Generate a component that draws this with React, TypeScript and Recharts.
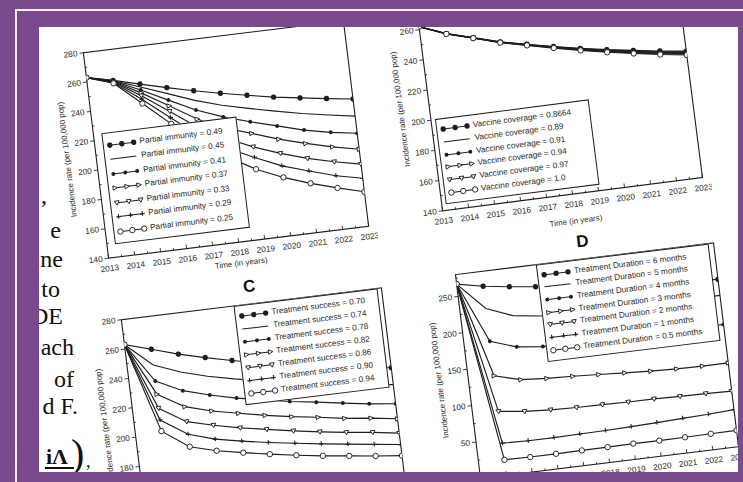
import React from 'react';
import { LineChart, Line, XAxis, YAxis, ReferenceArea } from 'recharts';

// ---------- data ----------
const years = [2013, 2014, 2015, 2016, 2017, 2018, 2019, 2020, 2021, 2022, 2023];
const yearTicks = [2013, 2014, 2015, 2016, 2017, 2018, 2019, 2020, 2021, 2022, 2023];

// Panel A : partial immunity
const immunityLabels = [
  'Partial immunity = 0.49',
  'Partial immunity = 0.45',
  'Partial immunity = 0.41',
  'Partial immunity = 0.37',
  'Partial immunity = 0.33',
  'Partial immunity = 0.29',
  'Partial immunity = 0.25',
];
const immunity049 = [263, 259, 254.3, 249.7, 245.4, 241.5, 238, 234.5, 231.8, 229.2, 226.7];
const immunity045 = [263, 258.8, 252.3, 245.6, 238.8, 233.3, 229, 225, 221.2, 218, 215];
const immunity041 = [263, 258.5, 250.3, 241.2, 232.3, 225.4, 219.9, 214.9, 209.9, 206.2, 203.4];
const immunity037 = [263, 258.2, 248.3, 237.3, 226.1, 217.8, 212, 205.9, 200.8, 196.3, 192.5];
const immunity033 = [263, 257.8, 246.3, 233.5, 220.4, 210.8, 202.8, 196.2, 190.6, 186.1, 182.3];
const immunity029 = [263, 257.4, 244, 229.2, 215, 204.2, 195.6, 187.7, 182, 176.6, 172.7];
const immunity025 = [263, 257, 241, 225, 210, 198, 187.6, 179.8, 173.6, 168.3, 163.5];

// Panel B : vaccine coverage
const coverageLabels = [
  'Vaccine coverage = 0.8664',
  'Vaccine coverage = 0.89',
  'Vaccine coverage = 0.91',
  'Vaccine coverage = 0.94',
  'Vaccine coverage = 0.97',
  'Vaccine coverage = 1.0',
];
const coverage08664 = [262, 255.2, 250.3, 245.3, 241.5, 237.8, 234.4, 231.3, 228.6, 226, 223.7];
const coverage089 = [262, 255.15, 250.2, 245.2, 241.3, 237.6, 234.1, 231, 228.2, 225.5, 223.2];
const coverage091 = [262, 255.1, 250.15, 245.1, 241.2, 237.4, 233.8, 230.7, 227.8, 225.1, 222.7];
const coverage094 = [262, 255.1, 250.1, 245, 241.1, 237.2, 233.6, 230.3, 227.4, 224.6, 222.2];
const coverage097 = [262, 255.05, 250.05, 244.9, 240.95, 237, 233.3, 230, 227, 224.2, 221.7];
const coverage100 = [262, 255, 250, 244.8, 240.8, 236.8, 233, 229.6, 226.6, 223.7, 221.2];

// Panel C : treatment success
const successLabels = [
  'Treatment success = 0.70',
  'Treatment success = 0.74',
  'Treatment success = 0.78',
  'Treatment success = 0.82',
  'Treatment success = 0.86',
  'Treatment success = 0.90',
  'Treatment success = 0.94',
];
const success070 = [263, 257.7, 252.2, 247.7, 243.5, 239.8, 236.4, 233.3, 230.5, 227.9, 225.5];
const success074 = [263, 247, 240, 235, 231, 227.5, 224.5, 221.5, 218.8, 216.3, 214];
const success078 = [263, 236, 227.3, 222.2, 217.9, 214.5, 211.2, 208.6, 205.8, 203.1, 201];
const success082 = [263, 227.1, 216.4, 211.3, 207.6, 204, 200.9, 198.3, 195.4, 193.4, 190.8];
const success086 = [263, 217.5, 206.2, 201.6, 197.6, 194.4, 191.2, 188.4, 185.8, 183.7, 181];
const success090 = [263, 209.5, 197.6, 192.1, 188.6, 185.5, 182.8, 180.2, 177.8, 175.5, 173.2];
const success094 = [263, 201.9, 189.1, 184.2, 180.7, 177.5, 174.6, 172, 169.8, 167.6, 165.6];

// Panel D : treatment duration
const durationLabels = [
  'Treatment Duration = 6 months',
  'Treatment Duration = 5 months',
  'Treatment Duration = 4 months',
  'Treatment Duration = 3 months',
  'Treatment Duration = 2 months',
  'Treatment Duration = 1 months',
  'Treatment Duration = 0.5 months',
];
const duration6 = [267, 259.6, 254.6, 250.3, 246.5, 243, 240, 237.2, 234.8, 232.4, 230];
const duration5 = [267, 229, 215, 210, 208, 207, 206.5, 206.5, 207, 207.5, 208];
const duration4 = [267, 184, 172, 168, 166.5, 166, 166, 166.5, 167, 167.5, 168];
const duration3 = [267, 136.6, 126.9, 124.3, 122.9, 121, 118.9, 116.9, 115.7, 115.1, 115.2];
const duration2 = [267, 87.7, 83.4, 81.1, 80, 79.6, 78.8, 78.7, 77.8, 77.3, 76.3];
const duration1 = [267, 44, 43, 43, 43.5, 44, 45, 46.2, 47.7, 48.9, 51];
const duration05 = [267, 21.2, 20.6, 20.7, 21, 21.2, 21.7, 21.4, 21.7, 22.1, 22.5];

const rate140Ticks = [140, 160, 180, 200, 220, 240, 260, 280];
const rate0Ticks = [0, 50, 100, 150, 200, 250];

const xTitle = 'Time (in years)';
const yTitle = 'Incidence rate (per 100,000 pop)';

const sideWords = [',', 'e', 'ne', 'to', 'DE', 'ach', 'of', 'd F.'];

// ---------- styles ----------
const SANS = '"Liberation Sans", Arial, Helvetica, sans-serif';
const SERIF = '"Liberation Serif", "Times New Roman", serif';
const INK = '#1e1e1e';
const TXT = '#2a2a2a';
const PURPLE = '#7b4a8c';

type Kind = 'bigDot' | 'none' | 'smallDot' | 'triRight' | 'triDown' | 'plus' | 'circle';
const sevenKinds: Kind[] = ['bigDot', 'none', 'smallDot', 'triRight', 'triDown', 'plus', 'circle'];
const sixKinds: Kind[] = ['bigDot', 'none', 'smallDot', 'triRight', 'triDown', 'circle'];

type Series = { label: string; kind: Kind; values: number[] };
type PanelSpec = {
  cx: number;
  cy: number;
  W: number;
  H: number;
  angle: number;
  domain: [number, number];
  yMajor: number[];
  series: Series[];
  legend: { left: number; top: number; width: number; height: number };
  title?: string;
  xTitleOffset: number;
};

function Marker({ kind, cx, cy }: { kind: Kind; cx: number; cy: number }) {
  if (cx == null || cy == null || Number.isNaN(cx) || Number.isNaN(cy)) return <g />;
  switch (kind) {
    case 'bigDot':
      return <circle cx={cx} cy={cy} r={2.7} fill={INK} />;
    case 'smallDot':
      return <circle cx={cx} cy={cy} r={2} fill={INK} />;
    case 'triRight':
      return (
        <path
          d={`M${cx - 2},${cy - 2.2}L${cx + 2.5},${cy}L${cx - 2},${cy + 2.2}Z`}
          fill="#fff"
          stroke={INK}
          strokeWidth={0.9}
        />
      );
    case 'triDown':
      return (
        <path
          d={`M${cx - 2.4},${cy - 1.8}L${cx + 2.4},${cy - 1.8}L${cx},${cy + 2.4}Z`}
          fill="#fff"
          stroke={INK}
          strokeWidth={0.9}
        />
      );
    case 'plus':
      return (
        <path
          d={`M${cx - 2.4},${cy}L${cx + 2.4},${cy}M${cx},${cy - 2.6}L${cx},${cy + 2}`}
          stroke={INK}
          strokeWidth={1.1}
          fill="none"
        />
      );
    case 'circle':
      return <circle cx={cx} cy={cy} r={2.7} fill="#fff" stroke={INK} strokeWidth={0.9} />;
    default:
      return <g />;
  }
}

function buildRows(series: Series[]) {
  return years.map((year, i) => {
    const row: Record<string, number> = { year };
    series.forEach((s, j) => {
      row['s' + j] = s.values[i];
    });
    return row;
  });
}

const makeXTick = (major: number[]) => (props: any) => {
  const { x, y, payload } = props;
  const isMajor = major.includes(payload.value);
  return (
    <g>
      <line x1={x} x2={x} y1={y} y2={y - (isMajor ? 4 : 2)} stroke={INK} strokeWidth={0.8} />
      {isMajor && (
        <text x={x} y={y + 13} textAnchor="middle" fontSize={8.3} fill={TXT} fontFamily={SANS}>
          {payload.value}
        </text>
      )}
    </g>
  );
};

const makeYTick = (major: number[]) => (props: any) => {
  const { x, y, payload } = props;
  const isMajor = major.includes(payload.value);
  return (
    <g>
      {isMajor ? (
        <line x1={x - 4} x2={x} y1={y} y2={y} stroke={INK} strokeWidth={0.8} />
      ) : (
        <line x1={x} x2={x + 2} y1={y} y2={y} stroke={INK} strokeWidth={0.8} />
      )}
      {isMajor && (
        <text x={x - 6} y={y} dy="0.33em" textAnchor="end" fontSize={8.3} fill={TXT} fontFamily={SANS}>
          {payload.value}
        </text>
      )}
    </g>
  );
};

function LegendSample({ kind }: { kind: Kind }) {
  return (
    <svg width={30} height={8} style={{ flex: '0 0 auto', overflow: 'visible' }}>
      <line x1={2} x2={28} y1={4} y2={4} stroke={INK} strokeWidth={1} />
      {kind !== 'none' && (
        <>
          <Marker kind={kind} cx={3} cy={4} />
          <Marker kind={kind} cx={15} cy={4} />
          <Marker kind={kind} cx={27} cy={4} />
        </>
      )}
    </svg>
  );
}

function Panel({ spec }: { spec: PanelSpec }) {
  const L = 46;
  const T = 26;
  const R = 8;
  const B = 36;
  const chartW = L + spec.W + R;
  const chartH = T + spec.H + B;
  const ox = L + spec.W / 2;
  const oy = T + spec.H / 2;
  const rows = buildRows(spec.series);
  const step = (spec.yMajor[1] - spec.yMajor[0]) / 2;
  const yTicks = [...spec.yMajor, ...spec.yMajor.map((v) => v + step)].filter(
    (v) => v >= spec.domain[0] && v <= spec.domain[1]
  );
  const xTicks = [...yearTicks, ...yearTicks.slice(0, -1).map((v) => v + 0.5)];
  const lg = spec.legend;
  return (
    <div
      style={{
        position: 'absolute',
        left: spec.cx - 39 - ox,
        top: spec.cy - 27 - oy,
        width: chartW,
        height: chartH,
        transform: `rotate(${-spec.angle}deg)`,
        transformOrigin: `${ox}px ${oy}px`,
      }}
    >
      <LineChart width={chartW} height={chartH} data={rows} margin={{ top: T, right: R, bottom: 0, left: 0 }}>
        <XAxis
          dataKey="year"
          type="number"
          domain={[2013, 2023]}
          ticks={xTicks}
          interval={0}
          tick={makeXTick(yearTicks)}
          tickLine={false}
          axisLine={false}
          tickSize={0}
          tickMargin={0}
          height={B}
          allowDataOverflow
        />
        <YAxis
          type="number"
          domain={spec.domain}
          ticks={yTicks}
          interval={0}
          tick={makeYTick(spec.yMajor)}
          tickLine={false}
          axisLine={false}
          tickSize={0}
          tickMargin={0}
          width={L}
          allowDataOverflow
        />
        <ReferenceArea
          x1={2013}
          x2={2023}
          y1={spec.domain[0]}
          y2={spec.domain[1]}
          fill="none"
          stroke={INK}
          strokeWidth={1.1}
        />
        {spec.series.map((s, j) => (
          <Line
            key={s.label}
            dataKey={'s' + j}
            type="linear"
            stroke={INK}
            strokeWidth={1.15}
            isAnimationActive={false}
            activeDot={false}
            dot={
              s.kind === 'none'
                ? false
                : (p: any) => <Marker key={`${j}-${p.index}`} kind={s.kind} cx={p.cx} cy={p.cy} />
            }
          />
        ))}
      </LineChart>
      {/* legend */}
      <div
        style={{
          position: 'absolute',
          left: L + lg.left,
          top: T + lg.top,
          width: lg.width,
          height: lg.height,
          boxSizing: 'border-box',
          border: `1px solid ${INK}`,
          background: '#fff',
          display: 'flex',
          flexDirection: 'column',
          justifyContent: 'space-evenly',
          padding: '2px 3px',
        }}
      >
        {spec.series.map((s) => (
          <div key={s.label} style={{ display: 'flex', alignItems: 'center', height: 10 }}>
            <LegendSample kind={s.kind} />
            <span
              style={{
                fontFamily: SANS,
                fontSize: 8.2,
                color: TXT,
                whiteSpace: 'nowrap',
                marginLeft: 3,
                lineHeight: '10px',
              }}
            >
              {s.label}
            </span>
          </div>
        ))}
      </div>
      {/* axis titles */}
      <div
        style={{
          position: 'absolute',
          left: L - 29,
          top: T + spec.H / 2,
          transform: 'translate(-50%, -50%) rotate(-90deg)',
          fontFamily: SANS,
          fontSize: 8,
          color: TXT,
          whiteSpace: 'nowrap',
        }}
      >
        {yTitle}
      </div>
      <div
        style={{
          position: 'absolute',
          left: L + spec.W / 2,
          top: T + spec.H + spec.xTitleOffset,
          transform: 'translate(-50%, -50%)',
          fontFamily: SANS,
          fontSize: 8,
          color: TXT,
          whiteSpace: 'nowrap',
        }}
      >
        {xTitle}
      </div>
      {spec.title && (
        <div
          style={{
            position: 'absolute',
            left: L + spec.W / 2,
            top: T - 17,
            transform: 'translate(-50%, -50%)',
            fontFamily: SANS,
            fontWeight: 'bold',
            fontSize: 17,
            color: '#111',
          }}
        >
          {spec.title}
        </div>
      )}
    </div>
  );
}

const panelA: PanelSpec = {
  cx: 226.3,
  cy: 139.5,
  W: 262,
  H: 207,
  angle: 7,
  domain: [140, 280],
  yMajor: rate140Ticks,
  series: [immunity049, immunity045, immunity041, immunity037, immunity033, immunity029, immunity025].map(
    (values, i) => ({ label: immunityLabels[i], kind: sevenKinds[i], values })
  ),
  legend: { left: 8, top: 82, width: 136, height: 112 },
  xTitleOffset: 21,
};

const panelB: PanelSpec = {
  cx: 559.4,
  cy: 88.7,
  W: 262,
  H: 213,
  angle: 7.3,
  domain: [140, 280],
  yMajor: rate140Ticks,
  series: [coverage08664, coverage089, coverage091, coverage094, coverage097, coverage100].map((values, i) => ({
    label: coverageLabels[i],
    kind: sixKinds[i],
    values,
  })),
  legend: { left: 4, top: 121, width: 155, height: 86 },
  xTitleOffset: 27,
};

const panelC: PanelSpec = {
  cx: 264.3,
  cy: 406.7,
  W: 262,
  H: 207,
  angle: 7,
  domain: [140, 280],
  yMajor: rate140Ticks,
  series: [success070, success074, success078, success082, success086, success090, success094].map((values, i) => ({
    label: successLabels[i],
    kind: sevenKinds[i],
    values,
  })),
  legend: { left: 113, top: 0, width: 145, height: 100 },
  title: 'C',
  xTitleOffset: 24,
};

const panelD: PanelSpec = {
  cx: 596.5,
  cy: 361,
  W: 260,
  H: 205.3,
  angle: 7,
  domain: [0, 280],
  yMajor: rate0Ticks,
  series: [duration6, duration5, duration4, duration3, duration2, duration1, duration05].map((values, i) => ({
    label: durationLabels[i],
    kind: sevenKinds[i],
    values,
  })),
  legend: { left: 81, top: 0, width: 174, height: 97.5 },
  title: 'D',
  xTitleOffset: 24,
};

// right edge x and baseline y (page coordinates) for the cut-off slide text
const sideLayout = [
  { r: 47, b: 203 },
  { r: 61, b: 238 },
  { r: 63, b: 267 },
  { r: 60, b: 297 },
  { r: 63, b: 324 },
  { r: 74, b: 355 },
  { r: 74, b: 387 },
  { r: 78, b: 414 },
];

export default function App() {
  const fs = 24;
  return (
    <div
      style={{
        position: 'fixed',
        left: 0,
        top: 0,
        width: 743,
        height: 482,
        background: PURPLE,
        overflow: 'hidden',
      }}
    >
      <div
        style={{
          position: 'absolute',
          left: 15,
          top: 9,
          width: 740,
          height: 480,
          borderLeft: '2px solid #f4eef6',
          borderTop: '2px solid #f4eef6',
        }}
      />
      <div
        style={{
          position: 'absolute',
          left: 39,
          top: 27,
          width: 699,
          height: 445,
          background: '#fff',
          overflow: 'hidden',
        }}
      >
        {sideWords.map((w, i) => (
          <div
            key={i}
            style={{
              position: 'absolute',
              left: -40,
              width: sideLayout[i].r - 39 + 40,
              top: sideLayout[i].b - 27 - fs * 0.84,
              textAlign: 'right',
              fontFamily: SERIF,
              fontSize: fs,
              lineHeight: 1,
              color: '#111',
              whiteSpace: 'nowrap',
            }}
          >
            {w}
          </div>
        ))}
        <div
          style={{
            position: 'absolute',
            left: 46 - 39,
            top: 464 - 27 - 18.5,
            fontFamily: SERIF,
            fontSize: 22,
            lineHeight: 1,
            fontWeight: 'bold',
            color: '#111',
            whiteSpace: 'nowrap',
          }}
        >
          iΛ
        </div>
        <div style={{ position: 'absolute', left: 45 - 39, top: 467 - 27, width: 29, height: 1.5, background: '#111' }} />
        <div
          style={{
            position: 'absolute',
            left: 71 - 39,
            top: 434 - 27,
            fontFamily: SERIF,
            fontSize: 40,
            lineHeight: 1,
            color: '#111',
          }}
        >
          )
        </div>
        <div
          style={{
            position: 'absolute',
            left: 86 - 39,
            top: 452 - 27,
            fontFamily: SERIF,
            fontSize: 18,
            lineHeight: 1,
            color: '#111',
          }}
        >
          ,
        </div>
        <Panel spec={panelA} />
        <Panel spec={panelB} />
        <Panel spec={panelC} />
        <Panel spec={panelD} />
      </div>
    </div>
  );
}
